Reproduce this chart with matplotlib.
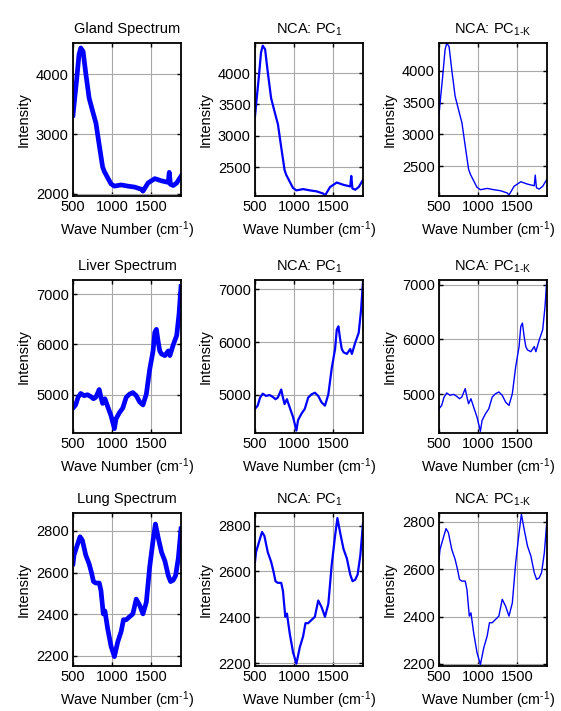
import numpy as np
import matplotlib
matplotlib.use('Agg')
import matplotlib.pyplot as plt

plt.rcParams['font.family'] = ['Liberation Sans', 'DejaVu Sans']
plt.rcParams['font.size'] = 10.5
plt.rcParams['mathtext.fontset'] = 'custom'
plt.rcParams['mathtext.rm'] = 'Liberation Sans'
plt.rcParams['mathtext.it'] = 'Liberation Sans'
plt.rcParams['mathtext.sf'] = 'Liberation Sans'

# spectra (wave number in cm^-1, intensity in counts)
gland_wn = [500, 522, 547, 577, 599, 629, 663, 706, 749, 793, 835, 878, 900, 943,
            986, 1029, 1115, 1200, 1287, 1373, 1394, 1459, 1545, 1631, 1717, 1730,
            1745, 1781, 1825, 1880]
gland_int = [3313, 3600, 3911, 4328, 4437, 4380, 4016, 3600, 3390, 3183, 2817, 2453,
             2375, 2270, 2167, 2130, 2150, 2130, 2114, 2078, 2046, 2183, 2255, 2218,
             2192, 2360, 2160, 2140, 2183, 2296]

liver_wn = [500, 534, 565, 599, 642, 685, 728, 762, 792, 835, 857, 878, 908, 943,
            986, 1029, 1050, 1093, 1136, 1180, 1222, 1265, 1308, 1351, 1394, 1437,
            1480, 1523, 1545, 1566, 1588, 1609, 1631, 1674, 1717, 1738, 1781, 1825,
            1855, 1880]
liver_int = [4736, 4798, 4951, 5025, 4982, 5000, 4963, 4920, 4951, 5104, 4951, 4828,
             4920, 4767, 4583, 4326, 4522, 4644, 4736, 4951, 5012, 5043, 4982, 4859,
             4798, 5012, 5503, 5870, 6238, 6300, 6054, 5870, 5809, 5778, 5870, 5778,
             5993, 6177, 6606, 7150]

lung_wn = [500, 513, 556, 590, 620, 663, 706, 736, 762, 792, 835, 857, 887, 908,
           943, 986, 1029, 1072, 1115, 1145, 1180, 1222, 1265, 1308, 1351, 1394,
           1437, 1480, 1523, 1553, 1588, 1631, 1674, 1717, 1747, 1781, 1811, 1846,
           1880]
lung_int = [2642, 2684, 2734, 2772, 2755, 2684, 2642, 2600, 2557, 2550, 2550, 2515,
            2402, 2416, 2331, 2247, 2197, 2268, 2317, 2374, 2374, 2388, 2402, 2473,
            2444, 2402, 2458, 2628, 2755, 2833, 2769, 2698, 2656, 2586, 2557, 2564,
            2586, 2670, 2810]

titles = ['Gland Spectrum', 'NCA: PC$_1$', 'NCA: PC$_{\\text{1-K}}$',
          'Liver Spectrum', 'NCA: PC$_1$', 'NCA: PC$_{\\text{1-K}}$',
          'Lung Spectrum', 'NCA: PC$_1$', 'NCA: PC$_{\\text{1-K}}$']

ylims = [(1965, 4520), (2040, 4480), (2031, 4437),
         (4240, 7280), (4280, 7178), (4295, 7085),
         (2152, 2886), (2187, 2855), (2191, 2838)]
yticks = [[2000, 3000, 4000], [2500, 3000, 3500, 4000], [2500, 3000, 3500, 4000],
          [5000, 6000, 7000], [5000, 6000, 7000], [5000, 6000, 7000],
          [2200, 2400, 2600, 2800], [2200, 2400, 2600, 2800], [2200, 2400, 2600, 2800]]

series = [(gland_wn, gland_int), (liver_wn, liver_int), (lung_wn, lung_int)]
widths = [3.4, 1.6, 1.0]

W, H = 561, 711
fig = plt.figure(figsize=(W / 100, H / 100), dpi=100)

lefts = [73, 255, 439]
tops = [43, 280, 513]
aw, ah = 108, 153

for r in range(3):
    wn, it = series[r]
    for c in range(3):
        k = r * 3 + c
        ax = fig.add_axes([lefts[c] / W, 1 - (tops[r] + ah) / H, aw / W, ah / H])
        ax.plot(wn, it, color='#0000ff', lw=widths[c], solid_joinstyle='round')
        ax.set_xlim(500, 1880)
        ax.set_ylim(*ylims[k])
        ax.set_xticks([500, 1000, 1500])
        ax.set_yticks(yticks[k])
        ax.grid(True, color='#a8a8a8', lw=0.8)
        ax.tick_params(direction='in', top=True, right=True, length=3, width=1,
                       labelsize=10.5, pad=3)
        for s in ax.spines.values():
            s.set_linewidth(1.3)
        ax.set_title(titles[k], fontsize=10.5, pad=7)
        xl = ax.set_xlabel('Wave Number (cm$^{\\text{-1}}$)', fontsize=10.3, labelpad=4)
        if c == 2:
            xl.set_x(0.45)
        ax.set_ylabel('Intensity', fontsize=10.5, labelpad=4)

fig.savefig('out.png', dpi=100, facecolor='white')
